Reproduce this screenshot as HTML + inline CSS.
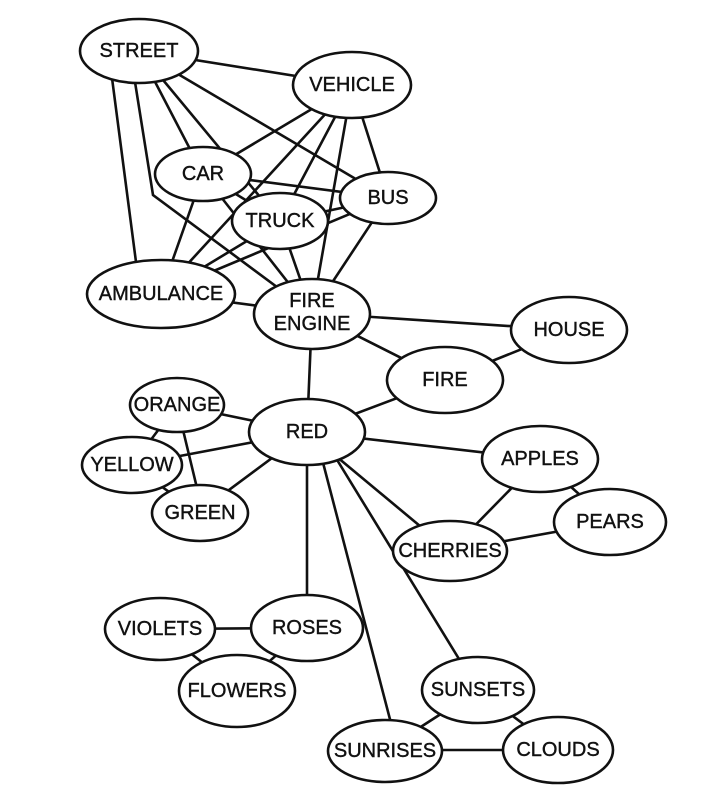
<!DOCTYPE html>
<html><head><style>html,body{margin:0;padding:0;background:#fff}svg{display:block}</style></head><body>
<svg width="721" height="800" viewBox="0 0 721 800" xmlns="http://www.w3.org/2000/svg">
<g stroke="#111" stroke-width="2.6" fill="none" stroke-linecap="round">
<line x1="139" y1="51" x2="352" y2="85"/>
<line x1="139" y1="51" x2="203" y2="174"/>
<line x1="139" y1="51" x2="388" y2="198"/>
<line x1="139" y1="51" x2="280" y2="221"/>
<line x1="112" y1="78" x2="136" y2="262"/>
<polyline points="135,82 153,195 312,313"/>
<line x1="352" y1="85" x2="203" y2="174"/>
<line x1="352" y1="85" x2="161" y2="293"/>
<line x1="352" y1="85" x2="280" y2="221"/>
<line x1="352" y1="85" x2="312" y2="313"/>
<line x1="352" y1="85" x2="388" y2="198"/>
<line x1="203" y1="174" x2="388" y2="198"/>
<line x1="203" y1="174" x2="161" y2="293"/>
<line x1="203" y1="174" x2="312" y2="313"/>
<line x1="203" y1="174" x2="280" y2="221"/>
<line x1="280" y1="221" x2="388" y2="198"/>
<line x1="388" y1="198" x2="161" y2="293"/>
<line x1="388" y1="198" x2="312" y2="313"/>
<line x1="280" y1="221" x2="161" y2="293"/>
<line x1="280" y1="221" x2="312" y2="313"/>
<line x1="161" y1="293" x2="312" y2="313"/>
<line x1="312" y1="313" x2="569" y2="330"/>
<line x1="312" y1="313" x2="445" y2="380"/>
<line x1="312" y1="313" x2="307" y2="432"/>
<line x1="569" y1="330" x2="445" y2="380"/>
<line x1="445" y1="380" x2="307" y2="432"/>
<line x1="307" y1="432" x2="177" y2="405"/>
<line x1="307" y1="432" x2="132" y2="465"/>
<line x1="307" y1="432" x2="198" y2="513"/>
<line x1="177" y1="405" x2="132" y2="465"/>
<line x1="177" y1="405" x2="203" y2="513"/>
<line x1="132" y1="465" x2="198" y2="513"/>
<line x1="307" y1="432" x2="540" y2="459"/>
<line x1="307" y1="432" x2="450" y2="551"/>
<line x1="307" y1="432" x2="307" y2="628"/>
<line x1="320" y1="432" x2="478" y2="690"/>
<line x1="315" y1="432" x2="398" y2="750"/>
<line x1="540" y1="459" x2="450" y2="551"/>
<line x1="540" y1="459" x2="610" y2="522"/>
<line x1="450" y1="551" x2="610" y2="522"/>
<line x1="160" y1="629" x2="307" y2="628"/>
<line x1="160" y1="629" x2="237" y2="690"/>
<line x1="307" y1="628" x2="237" y2="690"/>
<line x1="478" y1="690" x2="385" y2="750"/>
<line x1="478" y1="690" x2="558" y2="750"/>
<line x1="385" y1="750" x2="558" y2="750"/>
</g>
<g stroke="#111" stroke-width="2.6" fill="#fff">
<ellipse cx="139" cy="51" rx="59" ry="32"/>
<ellipse cx="352" cy="85" rx="59" ry="33"/>
<ellipse cx="203" cy="174" rx="48" ry="27"/>
<ellipse cx="388" cy="198" rx="48" ry="26"/>
<ellipse cx="280" cy="221" rx="48" ry="28"/>
<ellipse cx="161" cy="294" rx="74" ry="34"/>
<ellipse cx="312" cy="314" rx="58" ry="35"/>
<ellipse cx="569" cy="330" rx="58" ry="33"/>
<ellipse cx="445" cy="380" rx="58" ry="33"/>
<ellipse cx="177" cy="405" rx="47" ry="27"/>
<ellipse cx="307" cy="432" rx="58" ry="33"/>
<ellipse cx="132" cy="465" rx="50" ry="28"/>
<ellipse cx="540" cy="459" rx="58" ry="33"/>
<ellipse cx="200" cy="513" rx="48" ry="28"/>
<ellipse cx="610" cy="522" rx="56" ry="33"/>
<ellipse cx="450" cy="551" rx="57" ry="30"/>
<ellipse cx="160" cy="629" rx="55" ry="31"/>
<ellipse cx="307" cy="628" rx="56" ry="33"/>
<ellipse cx="237" cy="691" rx="58" ry="36"/>
<ellipse cx="478" cy="690" rx="56" ry="33"/>
<ellipse cx="385" cy="751" rx="57" ry="31"/>
<ellipse cx="558" cy="750" rx="55" ry="33"/>
</g>
<g font-family="Liberation Sans, sans-serif" font-size="20" fill="#111" text-anchor="middle" dominant-baseline="central" stroke="#111" stroke-width="0.4">
<text x="139" y="51">STREET</text>
<text x="352" y="85">VEHICLE</text>
<text x="203" y="174">CAR</text>
<text x="388" y="198">BUS</text>
<text x="280" y="221">TRUCK</text>
<text x="161" y="294">AMBULANCE</text>
<text x="312" y="301">FIRE</text>
<text x="312" y="324">ENGINE</text>
<text x="569" y="330">HOUSE</text>
<text x="445" y="380">FIRE</text>
<text x="177" y="405">ORANGE</text>
<text x="307" y="432">RED</text>
<text x="132" y="465">YELLOW</text>
<text x="540" y="459">APPLES</text>
<text x="200" y="513">GREEN</text>
<text x="610" y="522">PEARS</text>
<text x="450" y="551">CHERRIES</text>
<text x="160" y="629">VIOLETS</text>
<text x="307" y="628">ROSES</text>
<text x="237" y="691">FLOWERS</text>
<text x="478" y="690">SUNSETS</text>
<text x="385" y="751">SUNRISES</text>
<text x="558" y="750">CLOUDS</text>
</g>
</svg>
</body></html>
